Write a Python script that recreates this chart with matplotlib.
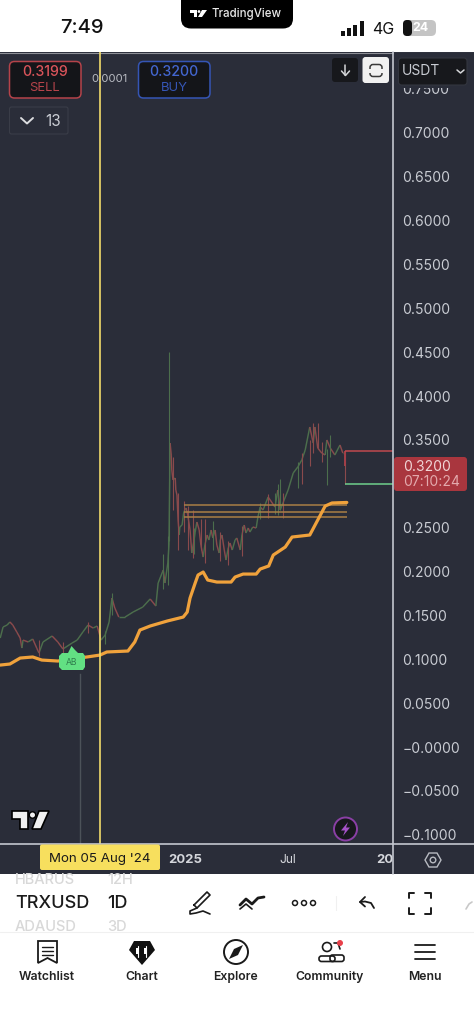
import matplotlib
matplotlib.use("Agg")
import matplotlib.pyplot as plt
from matplotlib.collections import LineCollection
from matplotlib.patches import Circle, FancyBboxPatch, Polygon, Rectangle

plt.rcParams["font.family"] = ["Inter", "DejaVu Sans"]

# price path, days since 05 Aug 2024
price_days = [-175, -170, -163, -158, -153, -146, -140, -137, -135, -126, -118, -111, -107, -100, -84, -74, -65, -49,
              -40, -30, -21, -12, -5, 2, 9, 16, 21, 26, 33, 44, 58, 75, 88, 98, 102, 111, 114, 119, 121,
              123, 125, 126, 128, 132, 133, 135, 137, 139, 140, 144, 147, 151, 154, 158, 160, 161, 165, 167, 170, 174,
              177, 181, 184, 188, 191, 195, 198, 202, 205, 209, 211, 214, 218, 221, 225, 228, 232, 237, 240, 246,
              249, 253, 256, 260, 263, 268, 274, 277, 281, 286, 295, 307, 312, 316, 321, 330, 339, 347,
              354, 360, 368, 374, 377, 382, 389, 395, 398, 404, 412, 421, 426, 430]
price_close = [0.1242, 0.1368, 0.1390, 0.1425, 0.1390, 0.1311, 0.1242, 0.1128, 0.1219, 0.1197, 0.1231, 0.1128, 0.1071,
               0.1197, 0.1265, 0.1197, 0.1117, 0.1185, 0.1219, 0.1311, 0.1390, 0.1356, 0.1379, 0.1219, 0.1276, 0.1425,
               0.1698, 0.1584, 0.1481, 0.1481, 0.1538, 0.1595, 0.1687, 0.1607, 0.1869, 0.2017, 0.1869, 0.2097, 0.2302,
               0.3464, 0.3327, 0.3157, 0.3043, 0.3066, 0.2929, 0.2872, 0.2587, 0.2416, 0.2507, 0.2530, 0.2678, 0.2724,
               0.2644, 0.2473, 0.2302, 0.2211, 0.2359, 0.2450, 0.2564, 0.2473, 0.2302, 0.2165, 0.2302, 0.2416, 0.2359,
               0.2473, 0.2382, 0.2473, 0.2302, 0.2211, 0.2359, 0.2416, 0.2245, 0.2131, 0.2268, 0.2325, 0.2245, 0.2359,
               0.2382, 0.2245, 0.2416, 0.2530, 0.2439, 0.2496, 0.2450, 0.2507, 0.2496, 0.2621, 0.2735,
               0.2701, 0.2849, 0.2735, 0.2929, 0.2701, 0.2781, 0.2929, 0.3123, 0.3191, 0.3271, 0.3385, 0.3647, 0.3464,
               0.3647, 0.3407, 0.3350, 0.3328, 0.3499, 0.3407, 0.3328, 0.3442, 0.3350, 0.3350]
price_close = price_close[:len(price_days)]

# wicks
wick_days = [121, 137, 163, 184, 321, 398, 430, 21, 111, 119, 128, 147, 154, 165, 177, 198, 211, 225, 249, 281, 295,
             307, 312, 316, 347, 354, 368, 374, 382, 389, 404, -107, -21, -65, 9]
wick_low = [0.2350, 0.2250, 0.2150, 0.2100, 0.2610, 0.2985, 0.2997, 0.1500, 0.1800, 0.1850, 0.2700, 0.2450, 0.2250,
            0.2200, 0.2250, 0.2250, 0.2120, 0.2070, 0.2180, 0.2600, 0.2610, 0.2650, 0.2640, 0.2700, 0.2950, 0.3000,
            0.3200, 0.3350, 0.3400, 0.3250, 0.3300, 0.1040, 0.1300, 0.1060, 0.1170]
wick_high = [0.4500, 0.2900, 0.2700, 0.2600, 0.2900, 0.3400, 0.3373, 0.1750, 0.2200, 0.2400, 0.3300, 0.2800, 0.2750,
             0.2500, 0.2600, 0.2580, 0.2450, 0.2350, 0.2520, 0.2780, 0.2880, 0.2900, 0.3000, 0.3050, 0.3250, 0.3350,
             0.3500, 0.3690, 0.3690, 0.3480, 0.3550, 0.1220, 0.1430, 0.1200, 0.1320]
wick_up = [True, False, False, False, False, True, False, True, True, True, False, False, False, True, False, True,
           False, False, False, True, False, True, True, True, True, False, False, False, False, False, True, False,
           False, False, True]

# orange moving average
ma_days = [-175, -158, -140, -118, -102, -74, -23, 0, 12, 49, 61, 70, 88, 118, 146, 153, 158, 167, 172, 181, 189, 205,
           230, 237, 251, 274, 281, 296, 304, 325, 337, 368, 382, 395, 407, 433]
ma_values = [0.0934, 0.0946, 0.1014, 0.1026, 0.0991, 0.0980, 0.1026, 0.1048, 0.1083, 0.1094, 0.1197, 0.1333, 0.1379,
             0.1436, 0.1481, 0.1538, 0.1698, 0.1869, 0.1960, 0.1994, 0.1903, 0.1880, 0.1880, 0.1937, 0.1971, 0.1971,
             0.2028, 0.2063, 0.2188, 0.2279, 0.2393, 0.2416, 0.2587, 0.2746, 0.2781, 0.2787]

# horizontal levels
level_values = [0.2758, 0.2678, 0.2621]
level_start = 147
level_end = 433

last_day = 430
last_open = 0.3373
last_close = 0.3200
sell_level = 0.3373
buy_level = 0.2997
cursor_day = 0
event_day = -35

# 0.3000 sits under the price tag in the app
y_ticks = [0.75, 0.70, 0.65, 0.60, 0.55, 0.50, 0.45, 0.40, 0.35, 0.25, 0.20, 0.15, 0.10, 0.05, 0.0, -0.05, -0.10]
x_ticks = [149, 330, 514]
x_labels = ["2025", "Jul", "2026"]

BG = "#2a2d39"
UP = "#4c6e4c"
DOWN = "#8a4a4c"
ORANGE = "#f0a23c"
LEVEL = "#a97f45"
TEXT = "#c9ccd3"

fig = plt.figure(figsize=(4.74, 10.24), dpi=100, facecolor="white")


def px_axes(zorder):
    ax = fig.add_axes([0, 0, 1, 1], zorder=zorder)
    ax.set_xlim(0, 474)
    ax.set_ylim(1024, 0)
    ax.axis("off")
    ax.patch.set_alpha(0)
    return ax


back = px_axes(0)
back.add_patch(Rectangle((0, 52), 474, 822, color=BG, lw=0))
back.plot([0, 474], [52.5, 52.5], color="#8d8f96", lw=0.8)

# chart
ax = fig.add_axes([0, 1 - 844 / 1024, 393 / 474, (844 - 52) / 1024], zorder=1)
ax.patch.set_alpha(0)
ax.set_xlim(-175.4, 514)
ax.set_ylim(-0.1105, 0.792)
for s in ax.spines.values():
    s.set_visible(False)
ax.yaxis.tick_right()
ax.set_yticks(y_ticks)
ax.set_yticklabels(["\u22120.0000" if v == 0 else f"{v:.4f}".replace("-", "\u2212") for v in y_ticks],
                   fontsize=10, color=TEXT)
ax.tick_params(axis="y", length=0, pad=6.8)
ax.set_xticks(x_ticks)
ax.set_xticklabels(x_labels, fontsize=9.4, color="#d5d7dc")
ax.tick_params(axis="x", length=0, pad=7.5)
ax.get_xticklabels()[0].set_fontweight("bold")
ax.get_xticklabels()[2].set_fontweight("bold")
ax.get_xticklabels()[1].set_fontsize(8.6)

segs = []
cols = []
for i in range(1, len(price_days)):
    segs.append([(price_days[i - 1], price_close[i - 1]), (price_days[i], price_close[i])])
    cols.append(UP if price_close[i] >= price_close[i - 1] else DOWN)
ax.add_collection(LineCollection(segs, colors=cols, linewidths=1.05, zorder=2))
ax.vlines(wick_days, wick_low, wick_high, colors=[UP if u else DOWN for u in wick_up], linewidth=0.8, zorder=2)
ax.vlines(last_day, last_close, last_open, colors="#a33f48", linewidth=1.4, zorder=3)

ax.hlines(level_values, level_start, level_end, colors=LEVEL, linewidth=1.1, zorder=3)
ax.plot(ma_days, ma_values, color=ORANGE, lw=2.3, solid_capstyle="round", solid_joinstyle="round", zorder=4)
ax.hlines(sell_level, last_day, 514, colors="#c0494f", linewidth=1.1, zorder=3)
ax.hlines(buy_level, last_day, 514, colors="#6fd08c", linewidth=1.1, zorder=3)
ax.axvline(event_day, ymax=0.215, color="#4c5259", lw=1, zorder=1)
ax.axvline(cursor_day, color="#f2dc6b", lw=1.2, zorder=5)

top = px_axes(2)


def box(x0, y0, x1, y1, fc, ec="none", lw=0, r=4, ax=top, z=3):
    ax.add_patch(FancyBboxPatch((x0 + r, y0 + r), x1 - x0 - 2 * r, y1 - y0 - 2 * r,
                                boxstyle=f"round,pad={r},rounding_size={r}", fc=fc, ec=ec, lw=lw, zorder=z))


def txt(x, y, s, size, color="black", ha="center", weight="normal", alpha=1, z=6):
    top.text(x, y, s, fontsize=size, color=color, ha=ha, va="center", fontweight=weight, alpha=alpha, zorder=z)


def line(xs, ys, color="black", lw=1.4, z=6):
    top.plot(xs, ys, color=color, lw=lw, solid_capstyle="round", solid_joinstyle="round", zorder=z)


# clip the axis labels like the app does
top.add_patch(Rectangle((394, 53), 80, 35, color=BG, lw=0, zorder=2))
top.add_patch(Rectangle((394, 845), 80, 29, color=BG, lw=0, zorder=2))
line([393.5, 393.5], [52, 874], "#c3c6cf", 1.2, 3)
line([0, 474], [844, 844], "#c3c6cf", 1.2, 3)

# status bar
box(181, -12, 293, 28.5, "black", r=10)
txt(82, 28, "7:49", 14.5, "#111111", weight="medium")
txt(212, 13.5, "TradingView", 8.3, "#e8e8e8", ha="left", weight="medium")
top.add_patch(Polygon([(190, 10), (197, 10), (197, 17), (194, 17), (194, 13), (190, 13)], fc="white", zorder=6))
top.add_patch(Polygon([(198, 17), (202, 10), (207, 10), (202, 17)], fc="white", zorder=6))
top.add_patch(Circle((199, 11.5), 1.4, fc="white", zorder=6))
for bx, by in zip([341, 347, 353, 360], [31, 28, 25, 21]):
    top.add_patch(Rectangle((bx, by), 4, 35.5 - by, fc="#111111", zorder=6))
txt(383, 29, "4G", 11.5, "#111111")
box(403, 20, 436, 36, "#c4c4c4", r=5)
box(403, 20, 412, 36, "#111111", r=4)
txt(420, 28, "24", 9, "white", weight="bold")

# sell / buy
box(9.5, 61.5, 81, 98, "#141519", "#b5434a", 1.1, 5)
txt(45, 72, "0.3199", 10.2, "#d9545a", weight="medium")
txt(45, 88, "SELL", 9.4, "#b5434a")
txt(109.5, 79.5, "0.0001", 8.2, "#b8bbc2")
box(138.5, 61.5, 210, 98, "#141519", "#3555b5", 1.1, 5)
txt(174, 72, "0.3200", 10.2, "#4366d0", weight="medium")
txt(174, 88, "BUY", 9.4, "#3555b5")
box(9.5, 107, 68, 134, BG, "#3a3d48", 0.8, 2)
line([21, 27, 33], [118, 123.5, 118], "#dcdde0", 1.4)
txt(53, 121, "13", 11, "#c9ccd3")

# buttons
box(332, 58, 358, 82, "#17181c", r=3)
line([345.5, 345.5], [65, 75], "#d5d6d9", 1.1)
line([341.5, 345.5, 349.5], [71, 75.5, 71], "#d5d6d9", 1.1)
box(362.5, 57, 389, 83, "#f1f1f1", r=3)
box(370, 64.5, 382, 76.5, "#f1f1f1", "#3a3a3a", 1.1, 3)
top.add_patch(Rectangle((367, 68.5), 18, 4, fc="#f1f1f1", lw=0, zorder=4))
box(398.5, 58, 467, 85, "#17181c", "#33363f", 0.8, 3)
txt(402, 71, "USDT", 10, "#c9ccd3", ha="left")
line([457, 460.5, 464], [70, 73, 70], "#d5d6d9", 1.1)

# price tag
box(394, 457, 467, 491, "#a9363e", r=3)
txt(403, 467, "0.3200", 10, "#f0d5d6", ha="left")
txt(403, 482, "07:10:24", 10, "#e3a9ac", ha="left")

# AB flag
top.add_patch(Polygon([(62, 653), (68, 653), (71.5, 646), (75, 650), (78, 653), (83, 653), (85, 656), (85, 667),
                       (83, 670), (62, 670), (59, 667), (59, 656)], fc="#62e083", ec="none", zorder=5))
txt(72, 662.5, "AB", 6.2, "#2f7d4d")

# watermark and lightning
top.add_patch(Polygon([(12, 811), (28, 811), (28, 829), (20, 829), (20, 819), (12, 819)], fc="#f0f0f0", ec="black", lw=1.2, zorder=5))
top.add_patch(Polygon([(32, 829), (39, 811), (49, 811), (41, 829)], fc="#f0f0f0", ec="black", lw=1.2, zorder=5))
top.add_patch(Circle((32.5, 815), 3.2, fc="#f0f0f0", ec="black", lw=1, zorder=5))
top.add_patch(Circle((345.5, 829), 11.5, fc="#17181c", ec="#8a3fa5", lw=1.4, zorder=5))
top.add_patch(Polygon([(348, 822), (341, 830.5), (345, 830.5), (343, 836), (350, 827.5), (346, 827.5)], fc="#a552c8", zorder=6))

# time axis
box(40, 844.5, 160, 870, "#f7df5e", r=2)
txt(99.5, 859, "Mon 05 Aug '24", 9.6, "#1a1a1a")
top.add_patch(Polygon([(425, 860), (429, 853), (437, 853), (441, 860), (437, 867), (429, 867)], fc="none", ec="#b8bbc2", lw=1, zorder=6))
top.add_patch(Circle((433, 860), 2.8, fc="none", ec="#b8bbc2", lw=1, zorder=6))

# symbol picker
txt(15, 880, "HBARUS", 10.5, "#d8d8d8", ha="left", weight="medium")
txt(107, 880, "12H", 10.5, "#d8d8d8", ha="left", weight="medium")
txt(15, 904, "TRXUSD", 13, "#1a1a1a", ha="left", weight="medium")
txt(107, 904, "1D", 13, "#1a1a1a", ha="left", weight="medium")
txt(15, 927, "ADAUSD", 10.5, "#d8d8d8", ha="left", weight="medium")
txt(107, 927, "3D", 10.5, "#d8d8d8", ha="left", weight="medium")
line([0, 474], [932, 932], "#f0f0f0", 0.8)
line([336, 336], [896, 910], "#f0f0f0", 0.8)

# drawing tools
line([194, 207, 210, 197, 194], [905, 892, 895, 908, 905], "#1a1a1a", 1.2)
line([197, 190, 190, 196, 203, 210], [908, 911, 914, 913, 911, 914], "#1a1a1a", 1.2)
line([240, 246, 252, 258, 264], [905, 899, 904, 898, 897], "#1a1a1a", 2)
line([240, 246, 252], [909, 904, 909], "#1a1a1a", 1.2)
for cx in [295, 304, 313]:
    top.add_patch(Circle((cx, 903), 2.5, fc="none", ec="#1a1a1a", lw=1.1, zorder=6))
line([374, 371, 365, 360], [908, 903, 901.5, 902], "#1a1a1a", 1.3)
line([365, 360, 365], [897, 902, 906.5], "#1a1a1a", 1.3)
for xs, ys in [([409, 409, 414], [898, 893, 893]), ([425, 431, 431], [893, 893, 898]),
               ([409, 409, 414], [908, 914, 914]), ([425, 431, 431], [914, 914, 908])]:
    line(xs, ys, "#1a1a1a", 1.4)
line([466, 469, 472], [909, 904, 902], "#c8c8c8", 1.2)

# tab bar
top.add_patch(Polygon([(38, 941), (57, 941), (57, 963), (47.5, 958), (38, 963)], fc="none", ec="#1a1a1a", lw=1.3, zorder=6))
for ly in [947, 951, 955]:
    line([42, 53], [ly, ly], "#1a1a1a", 1)
top.add_patch(Polygon([(134, 941), (150, 941), (155, 950), (142, 965), (129, 950)], fc="#111111", zorder=6))
for cx in [138, 146]:
    line([cx, cx], [946, 957], "white", 0.8, 7)
    top.add_patch(Rectangle((cx - 1.5, 948), 3, 6, fc="white", zorder=7))
top.add_patch(Circle((236, 952), 12, fc="none", ec="#1a1a1a", lw=1.4, zorder=6))
top.add_patch(Polygon([(243, 945), (238, 955), (229, 959), (234, 949)], fc="#1a1a1a", zorder=6))
top.add_patch(Circle((327, 947), 4.5, fc="none", ec="#1a1a1a", lw=1.2, zorder=6))
line([334, 338, 340], [943, 943, 949], "#1a1a1a", 1.2)
box(319, 956, 335, 961.5, "none", "#1a1a1a", 1.2, 2.5, z=6)
box(330, 955, 344, 961.5, "none", "#1a1a1a", 1.2, 2.5, z=6)
top.add_patch(Circle((340, 943), 3, fc="#e8404a", zorder=7))
for ly in [945, 952, 959]:
    line([415, 435], [ly, ly], "#1a1a1a", 1.3)
for tx, label in zip([47, 142, 236, 330, 425], ["Watchlist", "Chart", "Explore", "Community", "Menu"]):
    txt(tx, 977, label, 8.8, "#222222", weight="semibold")

fig.savefig("out.png", dpi=100, facecolor="white")
